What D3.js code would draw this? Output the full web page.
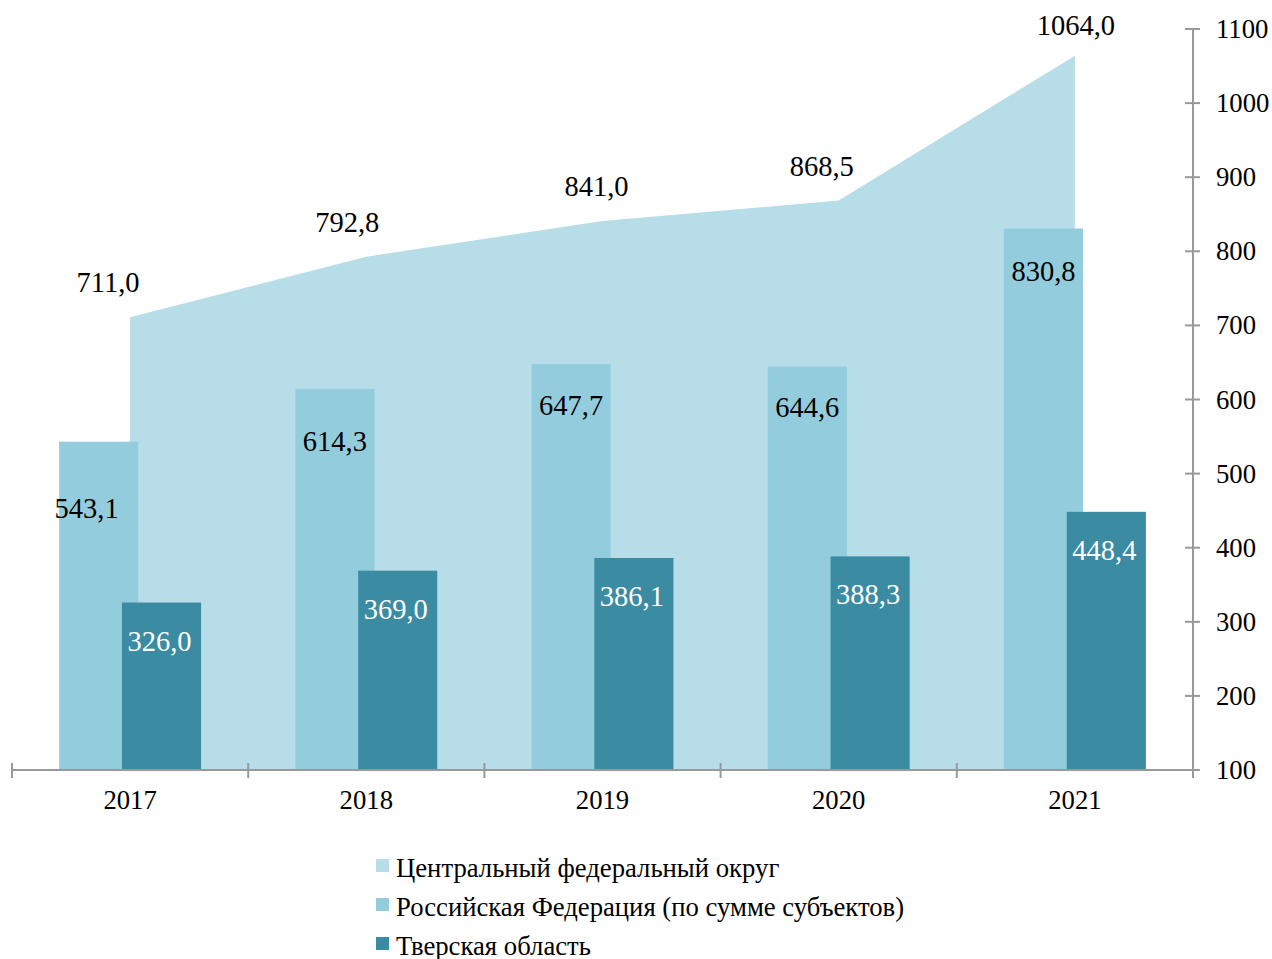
<!DOCTYPE html>
<html>
<head>
<meta charset="utf-8">
<script src="https://cdn.jsdelivr.net/npm/d3@7"></script>
<style>
  body { margin: 0; background: #fff; }
  text { font-family: "Liberation Serif", "Times New Roman", serif; }
</style>
</head>
<body>
<svg id="chart" width="1272" height="959"></svg>
<script>
// data
const years = ['2017', '2018', '2019', '2020', '2021'];
const cfoValues = [711.0, 792.8, 841.0, 868.5, 1064.0];
const rfValues = [543.1, 614.3, 647.7, 644.6, 830.8];
const tverValues = [326.0, 369.0, 386.1, 388.3, 448.4];
const yTicks = [100, 200, 300, 400, 500, 600, 700, 800, 900, 1000, 1100];
const seriesNames = ['Центральный федеральный округ', 'Российская Федерация (по сумме субъектов)', 'Тверская область'];

const colors = ['#b7dee8', '#93cddd', '#3b8ba3'];
const fmt = v => v.toFixed(1).replace('.', ',');

const svg = d3.select('#chart');
const plotLeft = 12, plotRight = 1193, plotTop = 29, plotBottom = 770;
const labelSize = 28.5, axisSize = 26.7;

const x = d3.scaleBand().domain(years).range([plotLeft, plotRight]);
const y = d3.scaleLinear().domain([100, 1100]).range([plotBottom, plotTop]);
const barW = x.bandwidth() * 0.335;
const shift = x.bandwidth() * 0.133;
const cx = d => x(d) + x.bandwidth() / 2;

// area for ЦФО
const area = d3.area()
    .x((d, i) => cx(years[i]))
    .y0(y(100))
    .y1(d => y(d));
svg.append('path')
   .datum(cfoValues)
   .attr('d', area)
   .attr('fill', colors[0]);

// РФ bars
svg.selectAll('rect.rf')
   .data(rfValues)
   .enter()
   .append('rect')
   .attr('class', 'rf')
   .attr('x', (d, i) => cx(years[i]) - shift - barW / 2)
   .attr('y', d => y(d))
   .attr('width', barW)
   .attr('height', d => y(100) - y(d))
   .attr('fill', colors[1]);

// Тверская bars
svg.selectAll('rect.tv')
   .data(tverValues)
   .enter()
   .append('rect')
   .attr('class', 'tv')
   .attr('x', (d, i) => cx(years[i]) + shift - barW / 2)
   .attr('y', d => y(d))
   .attr('width', barW)
   .attr('height', d => y(100) - y(d))
   .attr('fill', colors[2]);

// labels
const cfoDx = [-22, -19, -6, -17, 1];
svg.selectAll('text.cfo')
   .data(cfoValues)
   .enter()
   .append('text')
   .attr('x', (d, i) => cx(years[i]) + cfoDx[i])
   .attr('y', (d, i) => y(d) - (i == 4 ? 21 : 25))
   .attr('text-anchor', 'middle')
   .attr('font-size', labelSize)
   .text(fmt);

const rfDy = [76, 62, 51, 51, 53];
svg.selectAll('text.rfl')
   .data(rfValues)
   .enter()
   .append('text')
   .attr('x', (d, i) => cx(years[i]) - shift - (i == 0 ? 12 : 0))
   .attr('y', (d, i) => y(d) + rfDy[i])
   .attr('text-anchor', 'middle')
   .attr('font-size', labelSize)
   .text(fmt);

svg.selectAll('text.tvl')
   .data(tverValues)
   .enter()
   .append('text')
   .attr('x', (d, i) => cx(years[i]) + shift - 2)
   .attr('y', d => y(d) + 48)
   .attr('text-anchor', 'middle')
   .attr('font-size', labelSize)
   .attr('fill', '#fff')
   .text(fmt);

// x axis
const axisColor = '#999';
svg.append('line')
   .attr('x1', plotLeft).attr('x2', 1200)
   .attr('y1', plotBottom).attr('y2', plotBottom)
   .attr('stroke', axisColor).attr('stroke-width', 2);
const xTickPos = years.map(d => x(d)).concat([plotRight]);
svg.selectAll('line.xt')
   .data(xTickPos)
   .enter()
   .append('line')
   .attr('x1', d => d).attr('x2', d => d)
   .attr('y1', plotBottom - 7).attr('y2', plotBottom + 8)
   .attr('stroke', axisColor).attr('stroke-width', 2);
svg.selectAll('text.xl')
   .data(years)
   .enter()
   .append('text')
   .attr('x', cx)
   .attr('y', plotBottom + 39)
   .attr('text-anchor', 'middle')
   .attr('font-size', axisSize)
   .text(d => d);

// right y axis
svg.append('line')
   .attr('x1', plotRight).attr('x2', plotRight)
   .attr('y1', plotTop).attr('y2', plotBottom)
   .attr('stroke', axisColor).attr('stroke-width', 2);
svg.selectAll('line.yt')
   .data(yTicks)
   .enter()
   .append('line')
   .attr('x1', plotRight - 8).attr('x2', plotRight + 7)
   .attr('y1', d => y(d)).attr('y2', d => y(d))
   .attr('stroke', axisColor).attr('stroke-width', 2);
svg.selectAll('text.yl')
   .data(yTicks)
   .enter()
   .append('text')
   .attr('x', 1216)
   .attr('y', d => y(d) + 9)
   .attr('font-size', axisSize)
   .text(d => d);

// legend
const lg = svg.selectAll('g.lg')
   .data(seriesNames)
   .enter()
   .append('g')
   .attr('transform', (d, i) => `translate(376, ${868 + i * 39})`);
lg.append('rect')
  .attr('x', 0).attr('y', -9)
  .attr('width', 13).attr('height', 13)
  .attr('fill', (d, i) => colors[i]);
lg.append('text')
  .attr('x', 20).attr('y', 9)
  .attr('font-size', axisSize)
  .text(d => d);
</script>
</body>
</html>
